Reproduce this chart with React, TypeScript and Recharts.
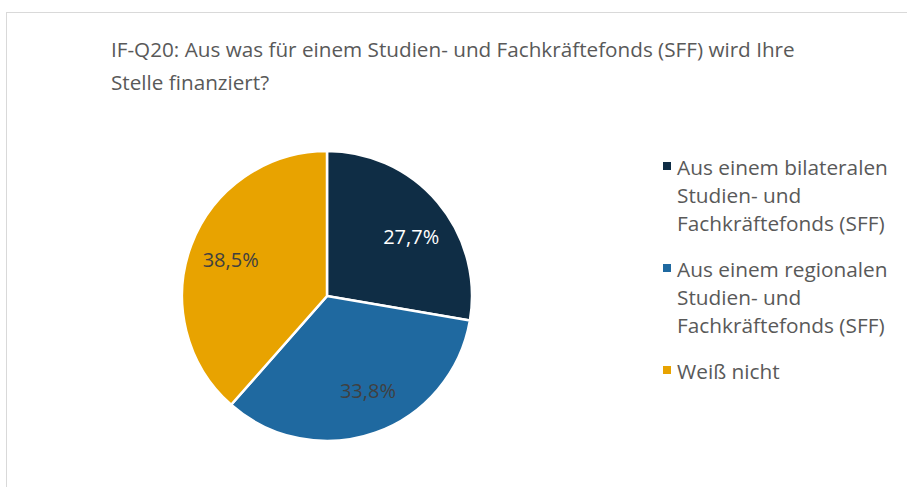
import { Cell, Legend, Pie, PieChart } from "recharts"

const categories = [
  "Aus einem bilateralen Studien- und Fachkräftefonds (SFF)",
  "Aus einem regionalen Studien- und Fachkräftefonds (SFF)",
  "Weiß nicht",
]
const legendLines = [
  ["Aus einem bilateralen", "Studien- und", "Fachkräftefonds (SFF)"],
  ["Aus einem regionalen", "Studien- und", "Fachkräftefonds (SFF)"],
  ["Weiß nicht"],
]
const shares = [27.7, 33.8, 38.5]
const colors = ["#0f2d45", "#1f69a0", "#e8a300"]
const labelColors = ["#ffffff", "#404040", "#404040"]

const data = categories.map((name, i) => ({ name, value: shares[i] }))

const FONT = "'Open Sans', sans-serif"
const RAD = Math.PI / 180
// excel's "best fit" nudges the labels off the slice middle a little
const labelShift = [-5, 4, 0]

const renderLabel = (props: any) => {
  const { cx, cy, midAngle, outerRadius, index, value } = props
  const a = midAngle + labelShift[index]
  const r = outerRadius * 0.71
  const x = cx + r * Math.cos(-a * RAD)
  const y = cy + r * Math.sin(-a * RAD)
  return (
    <text
      x={x}
      y={y}
      fill={labelColors[index]}
      textAnchor="middle"
      dominantBaseline="central"
      fontSize={20}
      fontFamily={FONT}
    >
      {value.toFixed(1).replace(".", ",")}%
    </text>
  )
}

const renderLegend = () => (
  <div style={{ fontFamily: FONT, fontSize: 20.8, color: "#595959", lineHeight: "28px" }}>
    {legendLines.map((lines, i) => (
      <div key={i} style={{ position: "relative", paddingLeft: 14, marginBottom: 18 }}>
        <span
          style={{
            position: "absolute",
            left: 0,
            top: 9,
            width: 8,
            height: 8,
            background: colors[i],
          }}
        />
        {lines.map((l) => (
          <div key={l} style={{ whiteSpace: "nowrap" }}>{l}</div>
        ))}
      </div>
    ))}
  </div>
)

export default function App() {
  return (
    <div style={{ position: "fixed", left: 0, top: 0, width: 907, height: 487, background: "#fff", overflow: "hidden" }}>
      <div
        style={{
          position: "absolute",
          left: 6,
          top: 12,
          width: 1000,
          height: 600,
          border: "1px solid #d9d9d9",
        }}
      />
      <div
        style={{
          position: "absolute",
          left: 111,
          top: 33,
          fontFamily: FONT,
          fontSize: 20.7,
          lineHeight: "33px",
          color: "#595959",
          whiteSpace: "nowrap",
        }}
      >
        IF-Q20: Aus was für einem Studien- und Fachkräftefonds (SFF) wird Ihre
        <br />
        Stelle finanziert?
      </div>
      <div style={{ position: "absolute", left: 0, top: 0 }}>
        <PieChart width={907} height={487} margin={{ top: 0, right: 0, bottom: 0, left: 0 }}>
          <Pie
            data={data}
            dataKey="value"
            nameKey="name"
            cx={327}
            cy={296}
            outerRadius={145}
            startAngle={90}
            endAngle={-270}
            stroke="#ffffff"
            strokeWidth={2.5}
            label={renderLabel}
            labelLine={false}
            isAnimationActive={false}
          >
            {data.map((d, i) => (
              <Cell key={d.name} fill={colors[i]} />
            ))}
          </Pie>
          <Legend
            layout="vertical"
            content={renderLegend}
            wrapperStyle={{ position: "absolute", left: 663, top: 153, width: 240 }}
          />
        </PieChart>
      </div>
    </div>
  )
}
